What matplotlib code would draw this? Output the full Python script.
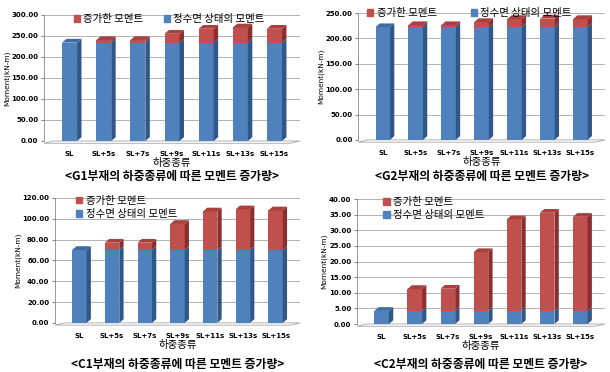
import numpy as np
import matplotlib
matplotlib.use('Agg')
import matplotlib.pyplot as plt
from matplotlib.patches import Polygon, Patch

plt.rcParams['font.family'] = ['Noto Sans CJK KR', 'DejaVu Sans']

cats = ['SL', 'SL+5s', 'SL+7s', 'SL+9s', 'SL+11s', 'SL+13s', 'SL+15s']

# base moment (blue) and total moment per panel
g1_base = [234, 234, 234, 234, 234, 234, 234]
g1_total = [234, 240, 240, 255, 267, 270, 267]
g2_base = [222, 222, 222, 222, 222, 222, 222]
g2_total = [222, 226, 226, 232, 238, 239, 238]
c1_base = [70, 70, 70, 70, 70, 70, 70]
c1_total = [70, 77, 77, 95, 107, 109, 108]
c2_base = [4.2, 4.2, 4.2, 4.2, 4.2, 4.2, 4.2]
c2_total = [4.2, 11.2, 11.3, 23.0, 33.5, 35.6, 34.3]

captions = ['<G1부재의 하중종류에 따른 모멘트 증가량>',
            '<G2부재의 하중종류에 따른 모멘트 증가량>',
            '<C1부재의 하중종류에 따른 모멘트 증가량>',
            '<C2부재의 하중종류에 따른 모멘트 증가량>']

blue, blue_side, blue_top = '#4F81BD', '#2F5788', '#3E6DA6'
red, red_side, red_top = '#C0504D', '#8A2F2D', '#A9403D'

fig = plt.figure(figsize=(6.1, 3.72), dpi=100)


def panel(rect, base, total, ymax, ystep, caption, cap_y, leg_anchor, vertical_legend):
    ax = fig.add_axes(rect)
    x = np.arange(len(cats))
    w = 0.44
    dx = 0.13
    dy = ymax * 0.03
    inc = np.array(total) - np.array(base)
    ax.set_xlim(-0.75, 6.75)
    ax.set_ylim(0, ymax)
    for y in np.arange(0, ymax + ystep / 2, ystep):
        ax.plot([-0.75, 6.75], [y, y], color='#A6A6A6', lw=0.6, zorder=0)
    # floor
    ax.add_patch(Polygon([(-0.75, -dy * 0.6), (6.45, -dy * 0.6), (6.75, 0), (-0.45, 0)],
                         closed=True, fc='white', ec='#A6A6A6', lw=0.6, zorder=0.5, clip_on=False))
    ax.bar(x, base, w, color=blue, zorder=2)
    ax.bar(x, inc, w, bottom=base, color=red, zorder=2)
    for xi, b, t in zip(x, base, total):
        r = xi + w / 2
        l = xi - w / 2
        ax.add_patch(Polygon([(r, 0), (r + dx, dy), (r + dx, b + dy), (r, b)],
                             closed=True, fc=blue_side, ec='none', zorder=2))
        if t > b:
            ax.add_patch(Polygon([(r, b), (r + dx, b + dy), (r + dx, t + dy), (r, t)],
                                 closed=True, fc=red_side, ec='none', zorder=2))
        top_c = red_top if t > b else blue_top
        ax.add_patch(Polygon([(l, t), (l + dx, t + dy), (r + dx, t + dy), (r, t)],
                             closed=True, fc=top_c, ec='none', zorder=2, clip_on=False))
    ax.set_xticks(x)
    ax.set_xticklabels(cats, fontsize=5, fontweight='bold', family=['DejaVu Sans'])
    ax.set_yticks(np.arange(0, ymax + ystep / 2, ystep))
    ax.set_yticklabels(['%.2f' % v for v in np.arange(0, ymax + ystep / 2, ystep)],
                       fontsize=5, fontweight='bold', family=['DejaVu Sans'])
    ax.tick_params(axis='x', length=0, pad=7)
    ax.tick_params(axis='y', length=2, pad=2, color='#888888')
    for s in ['top', 'right', 'bottom']:
        ax.spines[s].set_visible(False)
    ax.spines['left'].set_color('#888888')
    ax.spines['left'].set_linewidth(0.6)
    ax.set_ylabel('Moment(kN-m)', fontsize=5.3, family=['DejaVu Sans'], labelpad=1)
    ax.set_xlabel('하중종류', fontsize=7.5, labelpad=1)
    ax.text(0.5, cap_y, caption, transform=ax.transAxes, ha='center', va='center',
            fontsize=8.5, fontweight='bold')
    handles = [Patch(color=red, label='증가한 모멘트'), Patch(color=blue, label='정수면 상태의 모멘트')]
    if vertical_legend:
        ax.legend(handles=handles, loc='upper left', bbox_to_anchor=leg_anchor, fontsize=7.5,
                  frameon=False, handlelength=0.6, handleheight=0.6, handletextpad=0.3,
                  labelspacing=0.3, borderaxespad=0)
    else:
        ax.legend(handles=handles, loc='upper left', bbox_to_anchor=leg_anchor, ncol=2,
                  fontsize=7.5, frameon=False, handlelength=0.6, handleheight=0.6,
                  handletextpad=0.3, columnspacing=c_sp, borderaxespad=0)
    return ax


c_sp = 2.0
panel([0.072, 0.621, 0.420, 0.339], g1_base, g1_total, 300, 50, captions[0], -0.285,
      (0.1, 1.04), False)
c_sp = 3.3
panel([0.587, 0.624, 0.405, 0.341], g2_base, g2_total, 250, 50, captions[1], -0.29,
      (0.02, 1.07), False)
panel([0.090, 0.132, 0.402, 0.336], c1_base, c1_total, 120, 20, captions[2], -0.33,
      (0.07, 1.05), True)
panel([0.585, 0.129, 0.407, 0.336], c2_base, c2_total, 40, 5, captions[3], -0.32,
      (0.09, 1.05), True)

fig.savefig('out.png', dpi=100)
